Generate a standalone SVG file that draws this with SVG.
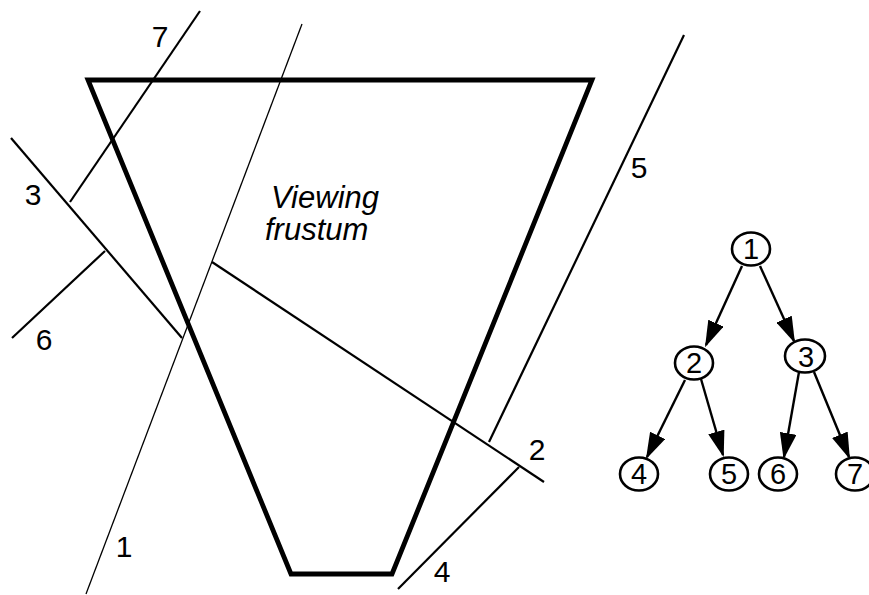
<svg xmlns="http://www.w3.org/2000/svg" width="869" height="595" viewBox="0 0 869 595">
<style>
.bg{fill:#fff}
.thin{stroke:#000;stroke-width:1.3;fill:none}
.med{stroke:#000;stroke-width:2.2;fill:none}
.thick{stroke:#000;stroke-width:4.8;fill:none;stroke-linejoin:miter}
.lbl{font-family:"Liberation Sans",Arial,sans-serif;font-size:30px;fill:#000;text-anchor:middle}
.it{font-family:"Liberation Sans",Arial,sans-serif;font-size:31px;font-style:italic;fill:#000}
.node ellipse{fill:#fff;stroke:#000;stroke-width:2.6}
.node text{font-family:"Liberation Sans",Arial,sans-serif;font-size:29px;fill:#000;text-anchor:middle}
.edge{stroke:#000;stroke-width:2.4;fill:none;marker-end:url(#ah)}
</style>
<defs>
<marker id="ah" markerWidth="11" markerHeight="7" refX="10" refY="3.5" orient="auto" markerUnits="strokeWidth">
<path d="M0,0 L11,3.5 L0,7 Z" fill="#000"/>
</marker>
</defs>
<rect class="bg" x="0" y="0" width="869" height="595"/>
<g id="scene">
<polygon id="frustum" class="thick" points="88,80 592,80 392,574 291,574"/>
<line id="plane1" class="thin" x1="302" y1="24" x2="86" y2="594"/>
<line id="plane7" class="med" x1="200" y1="11" x2="70" y2="202"/>
<line id="plane3" class="med" x1="11" y1="138" x2="182" y2="338"/>
<line id="plane6" class="med" x1="105" y1="251" x2="12" y2="338"/>
<line id="plane2" class="med" x1="212" y1="262" x2="544" y2="482"/>
<line id="plane5" class="med" x1="684" y1="35" x2="489" y2="442"/>
<line id="plane4" class="med" x1="519" y1="467" x2="398" y2="589"/>
<text class="lbl" x="160" y="47">7</text>
<text class="lbl" x="33" y="205">3</text>
<text class="lbl" x="44" y="350">6</text>
<text class="lbl" x="124" y="557">1</text>
<text class="lbl" x="442" y="582">4</text>
<text class="lbl" x="537" y="460">2</text>
<text class="lbl" x="639" y="178">5</text>
<text class="it" x="271" y="208">Viewing</text>
<text class="it" x="265" y="240">frustum</text>
</g>
<g id="connectors">
<line class="edge" x1="742" y1="266" x2="706" y2="345"/>
<line class="edge" x1="760" y1="266" x2="794" y2="341"/>
<line class="edge" x1="685" y1="380" x2="647" y2="457"/>
<line class="edge" x1="701" y1="379" x2="723" y2="455"/>
<line class="edge" x1="799" y1="372" x2="784" y2="457"/>
<line class="edge" x1="814" y1="372" x2="849" y2="457"/>
</g>
<g id="n1" class="node"><ellipse cx="751" cy="249" rx="19" ry="16.5"/><text x="751" y="259">1</text></g>
<g id="n2" class="node"><ellipse cx="694" cy="363" rx="19" ry="16.5"/><text x="694" y="373">2</text></g>
<g id="n3" class="node"><ellipse cx="805" cy="356" rx="20" ry="16.5"/><text x="806" y="367">3</text></g>
<g id="n4" class="node"><ellipse cx="639" cy="474" rx="19" ry="16.5"/><text x="639" y="484">4</text></g>
<g id="n5" class="node"><ellipse cx="729" cy="474" rx="19" ry="16.5"/><text x="729" y="484">5</text></g>
<g id="n6" class="node"><ellipse cx="778" cy="474" rx="19" ry="16.5"/><text x="778" y="484">6</text></g>
<g id="n7" class="node"><ellipse cx="855" cy="474" rx="19" ry="16.5"/><text x="855" y="484">7</text></g>
</svg>
